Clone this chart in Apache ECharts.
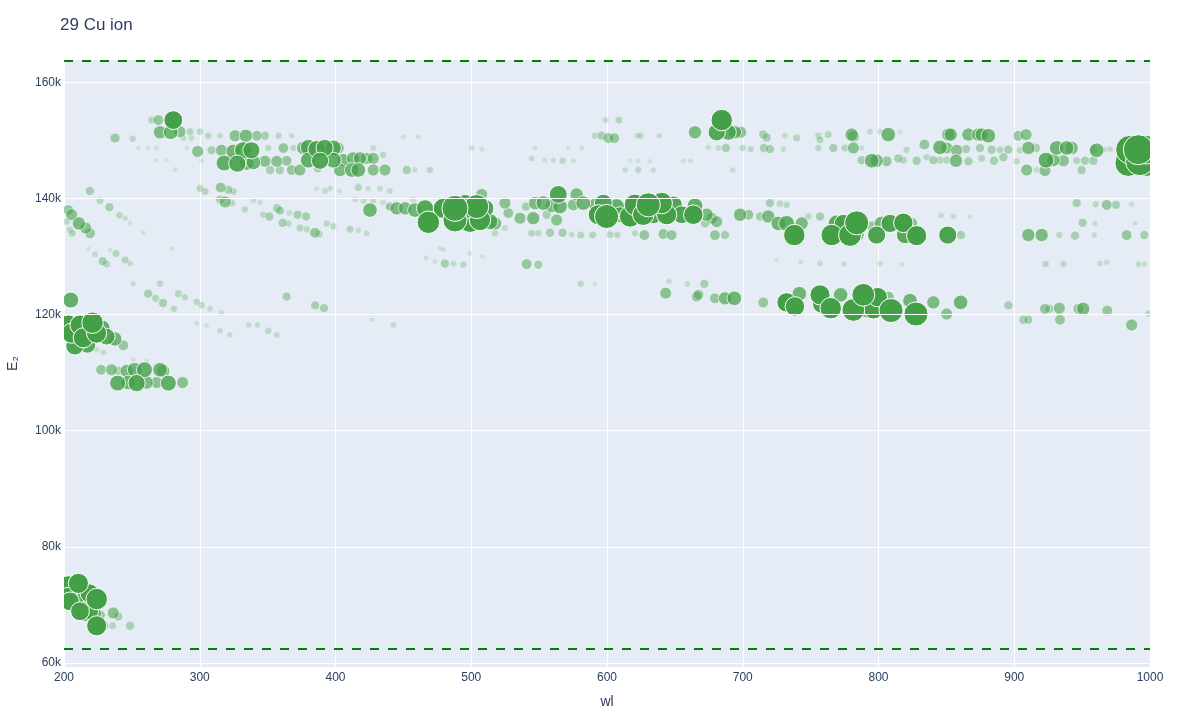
<!DOCTYPE html>
<html><head><meta charset="utf-8">
<script src="https://cdn.jsdelivr.net/npm/echarts@6/dist/echarts.min.js"></script>
<style>html,body{margin:0;padding:0;background:#fff}#c{width:1200px;height:720px}</style>
</head><body><div id="c"></div>
<script>
const titleText = '29 Cu ion';
const xTicks = [200, 300, 400, 500, 600, 700, 800, 900, 1000];
const yTicks = [60000, 80000, 100000, 120000, 140000, 160000];
const upperLimit = 163669;
const lowerLimit = 62390;

// [wl, E2, strength]
const bandUpperLeft = [
[280.5,153500,42],[269.5,153500,17],[264.6,153500,8],
[270.7,151400,25],[278.6,151400,29],[285.4,151500,21],[292.8,151500,8],[300.2,151500,6],[306.3,150800,6],[315,150800,4],[288,150400,4],[294,150400,4],[237.6,150400,15],[250.6,150300,6],[326,150800,21],[334,150800,25],[342,150800,17],[348,150800,12],[358,150800,6],[367.7,150800,3],
[298.5,148100,21],[308.8,148300,12],[316,148300,21],[324.7,148100,29],[332,148300,37],[338,148300,37],[350.5,148700,6],[361.6,148700,17],[369,148700,6],[376.3,148700,25],[380,148800,33],[386,148500,37],[392,148700,37],[398.4,148700,33],[402,148700,21],[427.8,148700,4],[435,147500,6],[450,150600,1],[461,150600,1],
[317.9,146100,33],[327.7,146000,37],[334.6,146100,29],[339.5,146200,29],[348,146400,21],[356.7,146400,21],[364,146500,17],[380,146600,33],[388.6,146500,37],[398.4,146600,33],[405.8,146600,25],[413,146900,25],[418,146900,25],[423,146900,21],[427.8,146900,21],
[351.8,144900,12],[359,144900,12],[367.7,144900,17],[373.8,144900,21],[387,145200,12],[403.3,144900,25],[412,144900,29],[416.8,144900,29],[427.8,144900,21],[436.5,144900,21],[452.5,144900,12],[469.6,144900,6],
[254.8,148700,0],[262,148700,0],[268,148700,1],[268,146600,0],[275.6,146600,0],[281.8,144900,0],[290.4,148700,0],[301.4,146500,1]
];
const bandUpperMid = [
[684.5,153500,50],[680.8,151400,37],[689.4,151400,33],[694.3,151400,25],[698.5,151400,21],[664.8,151400,25],[599,153500,4],[608.8,153500,8],[591.1,150800,6],[596,150800,12],[601,150400,17],[605.4,150400,17],[622.3,150800,4],[624.8,150800,6],[638.5,150800,3],[715.1,151000,12],[717.6,150500,12],[731.1,150800,4],[739.7,150400,8],
[674.6,148800,3],[682,148700,4],[687.6,148700,12],[700,148700,6],[705.8,148500,6],[715.6,148700,12],[720,148500,12],[729.9,148500,4],[500.3,148700,3],[507.7,148500,1],[544.5,146900,4],[554.3,146600,1],[560.5,146600,3],[567.3,146500,6],[575.2,146500,1],[547,148700,1],[571.5,148700,0],[581.3,148700,1],[617,146500,0],[623,146500,1],[631.7,146400,0],[656.2,146500,1],[661.6,146500,1],[458.5,144900,3],[613.2,144900,3],[623,144900,6],[634.1,144900,3],[692.6,144900,3]
];
const bandUpperRight = [
[755.7,150800,6],[756.9,150100,8],[763,151000,8],[780.2,151000,25],[781.5,150700,21],[793.7,151500,4],[801.1,151500,4],[807.2,151000,29],[815.8,151500,1],[851.4,151000,25],[853.2,151000,25],[866.2,151000,25],[873.5,151000,25],[876,151000,25],[880.9,150800,29],[903,150800,17],[908.7,151000,21],
[755.7,148700,6],[766.7,148700,12],[775.3,148700,8],[781.5,148700,21],[787.6,148700,3],[820.7,148400,6],[833.8,149300,17],[845.3,148800,29],[850.2,148700,21],[857.6,148300,21],[864.5,148500,12],[874.8,148700,12],[883.3,148400,12],[889.5,148400,8],[895.6,148400,12],[904.2,148300,6],[910.4,148700,25],[916,148700,12],[931.2,148700,29],[938.6,148700,29],[942.3,148700,25],[958.3,148400,12],[960.7,148300,29],[965.6,148400,6],[970.5,148500,4],
[787.6,146600,12],[795,146500,29],[798.6,146500,25],[806,146400,17],[814.6,146900,12],[818.3,146600,8],[828.1,146500,12],[835.5,147100,6],[840.4,146600,12],[845.3,146600,8],[850.2,146600,8],[857.1,146500,25],[866.2,146400,12],[876,146900,8],[885.1,146500,12],[892,147100,12],[901.8,146400,6],[923.4,146600,33],[928.8,146600,25],[936.2,146500,21],[946,146500,8],[952.1,146500,12],[958.3,146500,12],[949.6,144900,12],[909.2,144900,21],[922.6,144800,21],[916.5,144900,4],
[985.3,148400,72],[984,146100,66],[991.4,148400,76],[992.6,146400,72],[997.5,148400,72],[997.5,146100,66]
];
const bandMiddleLeft = [
[219,141300,12],[300.2,141700,8],[304,141200,8],[315.4,141900,17],[321,141500,12],[324.7,141200,8],[392.3,141300,4],[396,141700,3],[403,141300,1],[416.8,141900,8],[424,141700,3],[432.8,141700,4],[440,141300,4],[386,141700,1],
[226.5,139600,8],[233.4,138500,12],[240.8,137100,6],[245,136600,3],[248.6,135800,0],[315,139800,12],[318.7,139400,21],[323.5,139200,8],[333.3,138100,6],[339.5,139600,3],[344.4,139300,3],[346.8,137200,6],[351.3,136900,12],[357,138300,12],[359,137900,12],[366,137500,4],[361,135800,12],[365.3,135700,6],[372,137200,12],[378.3,136900,12],[373.8,134900,8],[378.7,134700,6],[384.9,134100,17],[388,133900,8],[393.5,135700,6],[398.4,135200,6],[410.7,134700,8],[416.8,134500,3],[423,134000,4],[425.4,138000,29],[414.4,139800,4],[420.5,139600,4],[427.8,139600,4],[435,139300,3],[440,138500,6],
[203.2,138000,17],[205.6,137200,21],[211,135700,25],[216,134900,21],[219.2,134000,17],[202,136000,6],[204.4,134600,6],[206,134000,8],
[218,131300,0],[222.8,130400,4],[228.5,129200,12],[231.4,128700,8],[234,131100,0],[238.3,130500,8],[245,129400,8],[248.6,128800,4],[258.4,134100,0],[279.3,131400,0],
[445,138300,25],[451.2,138300,25],[458.5,138000,29],[466,138300,37],[440,138600,12],[457.3,139800,4]
];
const bandMiddleCenter = [
[468.4,135900,53],[479.4,138300,46],[488,138300,64],[495.4,138600,58],[504,138600,58],[510.1,138300,39],[488,136300,58],[499.1,136000,50],[506.4,136300,50],[513.8,136000,33],[517.5,135700,25],[507.7,140700,21],[524.8,139200,21],[527.3,137500,17],[535.9,136600,21],[540.3,138600,12],[545.7,136600,25],[547,139200,25],[553.1,139200,29],[559.2,138700,25],[562.9,136300,21],[565.4,138600,29],[564.1,140700,39],[555.5,137200,12],[577.6,140700,25],[582.5,139200,29],[575.2,138900,21],[593.6,137200,46],[599.7,136900,58],[597.3,139200,39],[591.1,138900,25],[607.1,138600,33],[609.6,137200,33],[617,136900,50],[620.6,138900,50],[626.7,137200,50],[630.4,138900,58],[634.1,137200,39],[640.3,139200,50],[644,137200,46],[648.9,138900,39],[655,137200,39],[663.6,137200,44],[664.8,138700,33],[673.4,137200,25],[677.1,136600,21],[680.8,136000,21],[672.2,135700,12],[698,137200,25],[704.2,137200,17],[712.7,136900,12],[718.8,136900,25],[720,139200,12],[727.4,139100,6],[732.3,138900,6],[726.2,135700,29],[732.3,135700,33],[738,133700,50],
[517.5,134000,6],[544.5,134000,8],[549.4,134000,6],[558,134100,12],[567.3,134100,12],[574,133800,4],[580.6,133700,8],[589.4,133700,8],[602.2,133800,8],[607.6,133700,6],[620.6,134000,6],[627.5,133700,17],[641.5,133900,17],[647.6,133700,17],[679.5,133700,17],[686.9,133700,12],[524.8,134900,4],
[477,131400,1],[479.4,131200,1],[499,130500,1],[508.2,130000,0],[480.6,128800,12],[486.8,128800,4],[494.2,128600,6],[466.7,129800,1],[473.3,129100,1],[540.8,128700,17],[549.4,128600,12],[725,129500,0]
];
const bandMiddleRight = [
[743.4,135700,25],[748.3,136900,6],[756.9,136900,12],[765.5,133700,50],[769.2,135700,36],[774.1,135700,40],[783.9,135800,58],[779,133700,54],[785.1,133700,21],[795,135200,17],[798.6,133700,40],[802.3,135700,29],[808.5,135700,40],[818.3,135800,44],[824.4,135700,21],[819.5,133700,37],[828.1,133600,46],[846,137100,4],[851,133700,40],[860.8,133700,12],[855.1,136900,3],[867.4,136800,1],[910.4,133700,25],[920.2,133700,25],[933.2,133700,6],[944.8,133600,12],[959,133700,3],[982.8,133700,17],[995.8,133700,12],[946,139200,12],[960,139000,6],[968.1,138900,17],[974.9,138900,12],[986.5,139000,3],[950.4,135800,12],[959.5,135700,3],[989,135700,1],
[923.1,128700,6],[936.2,128700,6],[963.2,128800,4],[968.1,129000,3],[991.4,128700,4],[995.8,128700,3],[756.9,128800,4],[774.8,128700,3],[801.1,128800,3],[817.1,128700,1],[742.7,129100,1]
];
const bandLowerLeft = [
[251,125300,3],[262,123600,12],[267.5,122800,8],[273,122000,12],[281,121000,6],[270.7,125300,6],[284.2,123600,8],[289,123000,6],[297.7,122200,6],[301.4,121600,6],[307.5,121000,4],[316,120300,3],[305,118100,1],[314.9,117200,4],[322.2,116500,3],[336,118200,4],[342.4,118200,3],[350.5,117200,6],[356.7,116500,4],[364,123100,12],[385,121600,12],[391.5,121100,12],[426.6,119100,1],[442.6,118200,4],[297.7,118500,1],
[205,122500,33],[203.2,118200,46],[205.6,116800,46],[208,114600,40],[211.8,118200,46],[214.2,116000,46],[217.2,114800,36],[221,118600,50],[224,116800,46],[227.8,117600,36],[231.4,116200,36],[237.5,115800,28],[243.7,114700,17],[236.3,115300,6],[229,113500,4],[224,114000,3]
];
const band108 = [
[227.3,110500,17],[235,110500,21],[240,110300,12],[246.2,110300,25],[252,110500,29],[259.3,110500,33],[270.7,110500,29],[273,110300,25],[239.5,108200,33],[247.4,108300,29],[253.5,108200,37],[260.9,108300,25],[268.3,108300,21],[276.9,108200,33],[287.4,108300,21],[251,112300,1],[260.9,112000,0]
];
const bandLowerRight = [
[580.6,125300,6],[591.1,125300,0],[643.2,123700,21],[645.7,125700,3],[659.2,125300,4],[666,123100,17],[667.3,123400,17],[671.7,125300,12],[679.5,122800,17],[686.9,122800,25],[693.8,122800,29],[715.1,122100,17],[732.3,122100,44],[738.4,121400,44],
[741.7,123600,29],[756.9,123400,46],[758.1,121800,40],[764.8,121100,50],[772.1,123400,29],[781.5,120800,54],[788.8,123400,54],[791.3,120800,33],[796.2,120900,44],[799.4,123000,44],[807.2,123000,21],[809.2,120700,58],[823.2,122400,29],[827.6,120100,58],[840.4,122100,25],[850.2,120100,21],[860.5,122100,29],[895.7,121600,12],[906.7,119100,12],[910.4,119100,12],[922.6,121000,17],[925.8,121000,12],[933.2,121100,21],[933.7,119100,17],[947.2,121000,17],[950.8,121000,25],[968.5,120700,17],[986.5,118200,21],[998.8,120200,6]
];
const bandBottom = [
[203.2,73400,42],[210.6,73700,46],[213,73100,25],[203.2,71400,42],[204.4,70600,42],[209.3,71400,36],[218.7,72000,42],[224.1,71000,50],[220.4,70900,36],[211.8,68900,42],[215.5,68600,36],[219.2,68900,36],[222.3,68500,28],[224.1,66400,46],[226.5,68200,17],[229,66400,17],[235.9,66400,8],[236.3,68600,21],[240,68000,12],[248.6,66400,12]
];

const allPoints = [].concat(bandUpperLeft, bandUpperMid, bandUpperRight, bandMiddleLeft,
  bandMiddleCenter, bandMiddleRight, bandLowerLeft, band108, bandLowerRight, bandBottom)
  .slice().sort((a, b) => a[2] - b[2]);

const FONT = '"Liberation Sans", Arial, Helvetica, sans-serif';
const TXT = '#2a3f5f';
const MARK = 'rgb(67,160,71)';

const chart = echarts.init(document.getElementById('c'), null, {renderer: 'canvas'});
chart.setOption({
  animation: false,
  textStyle: {fontFamily: FONT},
  title: {text: titleText, left: 55, top: 12, textStyle: {fontSize: 17, fontWeight: 'normal', color: TXT, fontFamily: FONT}},
  grid: {left: 64, right: 50, top: 60, bottom: 53, show: true, backgroundColor: '#E5ECF6', borderWidth: 0,
    containLabel: false, outerBoundsMode: 'none'},
  xAxis: {
    type: 'value', min: 200, max: 1000, interval: 100,
    name: 'wl', nameLocation: 'middle', nameGap: 28,
    nameTextStyle: {fontSize: 14, color: TXT, fontFamily: FONT},
    axisLine: {show: false}, axisTick: {show: false},
    axisLabel: {color: TXT, fontSize: 12, margin: 5, fontFamily: FONT, customValues: xTicks,
      formatter: v => String(v)},
    splitLine: {show: true, lineStyle: {color: '#ffffff', width: 1}}
  },
  yAxis: {
    type: 'value', min: 59300, max: 163850,
    name: 'E₂', nameLocation: 'middle', nameGap: 44,
    nameTextStyle: {fontSize: 14, color: TXT, fontFamily: FONT},
    axisLine: {show: false}, axisTick: {show: false},
    axisLabel: {color: TXT, fontSize: 12, margin: 3, fontFamily: FONT, customValues: yTicks,
      formatter: v => (v / 1000) + 'k'},
    splitLine: {show: false}
  },
  series: [
    {
      type: 'line', data: [], silent: true, z: 1,
      markLine: {silent: true, symbol: ['none', 'none'], label: {show: false}, animation: false,
        lineStyle: {color: '#ffffff', width: 1, type: 'solid'},
        emphasis: {disabled: true},
        data: yTicks.map(v => ({yAxis: v}))}
    },
    {
      type: 'custom', clip: true, silent: true, z: 2,
      data: allPoints,
      encode: {x: 0, y: 1},
      renderItem: function (params, api) {
        const c = api.coord([api.value(0), api.value(1)]);
        const s = api.value(2);
        return {
          type: 'circle',
          shape: {cx: c[0], cy: c[1], r: (5 + 0.33 * s) / 2},
          style: {fill: MARK, stroke: '#ffffff', lineWidth: 1, opacity: Math.min(1, 0.15 + 0.02 * s)}
        };
      }
    },
    {
      type: 'line', data: [], silent: true, z: 3,
      markLine: {silent: true, symbol: ['none', 'none'], label: {show: false}, animation: false,
        lineStyle: {color: '#008000', width: 2, type: [9, 9]},
        emphasis: {disabled: true},
        data: [{yAxis: upperLimit}, {yAxis: lowerLimit}]}
    }
  ]
});
</script></body></html>
